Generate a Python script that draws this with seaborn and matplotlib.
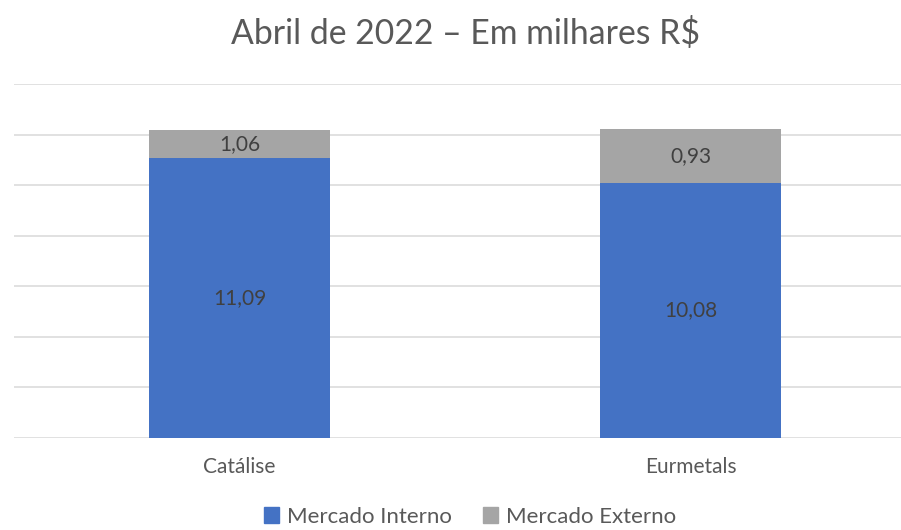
"""
Stacked bar chart: Mercado Interno / Mercado Externo, Abril de 2022
"""
import matplotlib
matplotlib.use('Agg')
import matplotlib.pyplot as plt
import seaborn as sns
from matplotlib.patches import Patch

# ==================== data ====================
empresas = ['Catálise', 'Eurmetals']
mercado_interno = [11.09, 10.08]
mercado_externo = [1.10, 2.13]          # bar heights as drawn
rotulos_interno = ['11,09', '10,08']
rotulos_externo = ['1,06', '0,93']

COR_INTERNO = '#4472C4'
COR_EXTERNO = '#A5A5A5'
COR_TEXTO = '#595959'
COR_ROTULO = '#404040'

sns.set_theme(style='white')
plt.rcParams['font.family'] = ['Lato', 'DejaVu Sans']

fig = plt.figure(figsize=(9.01, 5.30), dpi=100)
ax = fig.add_axes([14 / 901, 1 - 437.7 / 530, 902 / 901, 353.7 / 530])

sns.barplot(x=empresas, y=mercado_interno, color=COR_INTERNO, width=0.4,
            saturation=1, linewidth=0, ax=ax, zorder=3)
sns.barplot(x=empresas, y=mercado_externo, bottom=mercado_interno,
            color=COR_EXTERNO, width=0.4, saturation=1, linewidth=0, ax=ax, zorder=3)

ax.set_xlim(-0.5, 1.5)
ax.set_ylim(0, 14)
ax.set_yticks(range(0, 15, 2))
ax.yaxis.grid(True, color='#D9D9D9', linewidth=1.1, zorder=0)
ax.set_yticklabels([])
ax.tick_params(axis='y', length=0)
ax.tick_params(axis='x', length=0, labelsize=15, labelcolor=COR_TEXTO, pad=14)
for s in ax.spines.values():
    s.set_visible(False)
ax.set_xlabel('')
ax.set_ylabel('')

# data labels
for i in range(len(empresas)):
    ax.text(i, mercado_interno[i] / 2, rotulos_interno[i], ha='center', va='center',
            fontsize=15, color=COR_ROTULO, zorder=4)
    ax.text(i, mercado_interno[i] + mercado_externo[i] / 2, rotulos_externo[i],
            ha='center', va='center', fontsize=15, color=COR_ROTULO, zorder=4)

fig.text(466 / 901, 1 - 33 / 530, 'Abril de 2022 – Em milhares R$', ha='center',
         va='center', fontsize=24.3, color=COR_TEXTO)

handles = [Patch(color=COR_INTERNO, label='Mercado Interno'),
           Patch(color=COR_EXTERNO, label='Mercado Externo')]
fig.legend(handles=handles, loc='center', bbox_to_anchor=(470 / 901, 1 - 517 / 530),
           ncol=2, frameon=False, fontsize=16, labelcolor=COR_TEXTO,
           handlelength=0.7, handleheight=0.7, handletextpad=0.35, columnspacing=1.4,
           borderpad=0.1)

fig.savefig('out.png', dpi=100)
plt.close('all')
